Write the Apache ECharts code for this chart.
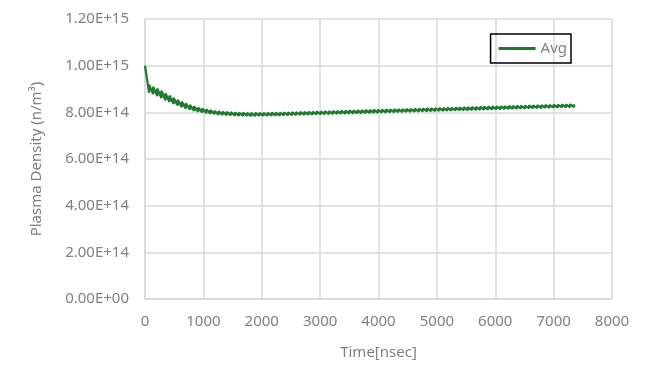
<!DOCTYPE html>
<html><head><meta charset="utf-8">
<script src="https://cdn.jsdelivr.net/npm/echarts@6/dist/echarts.min.js"></script>
<style>html,body{margin:0;padding:0;background:#fff}#c{width:650px;height:391px}</style>
</head><body><div id="c"></div>
<script>
// Time samples (nsec), one per pulse
const times = [0,70,140,210,280,350,420,490,560,630,700,770,840,910,980,1050,1120,1190,1260,1330,1400,1470,1540,1610,1680,1750,1820,1890,1960,2030,2100,2170,2240,2310,2380,2450,2520,2590,2660,2730,2800,2870,2940,3010,3080,3150,3220,3290,3360,3430,3500,3570,3640,3710,3780,3850,3920,3990,4060,4130,4200,4270,4340,4410,4480,4550,4620,4690,4760,4830,4900,4970,5040,5110,5180,5250,5320,5390,5460,5530,5600,5670,5740,5810,5880,5950,6020,6090,6160,6230,6300,6370,6440,6510,6580,6650,6720,6790,6860,6930,7000,7070,7140,7210,7280,7350];
// Density just before each pulse (x1e14 n/m^3)
const lows = [10.00,8.84,8.78,8.70,8.61,8.52,8.44,8.36,8.29,8.22,8.16,8.11,8.06,8.02,7.99,7.96,7.94,7.92,7.90,7.89,7.88,7.87,7.86,7.85,7.85,7.85,7.84,7.84,7.85,7.85,7.85,7.86,7.86,7.86,7.87,7.87,7.88,7.88,7.89,7.89,7.90,7.90,7.91,7.91,7.92,7.92,7.93,7.93,7.94,7.94,7.95,7.95,7.96,7.96,7.97,7.97,7.98,7.98,7.99,7.99,8.00,8.00,8.01,8.01,8.02,8.02,8.03,8.03,8.04,8.04,8.05,8.05,8.06,8.06,8.07,8.07,8.08,8.08,8.09,8.09,8.10,8.10,8.11,8.11,8.12,8.12,8.13,8.13,8.14,8.14,8.15,8.15,8.16,8.16,8.17,8.17,8.18,8.18,8.19,8.19,8.20,8.20,8.21,8.21,8.22,8.22];
// Density just after each pulse (x1e14 n/m^3)
const highs = [10.00,9.18,9.10,9.02,8.93,8.82,8.72,8.62,8.54,8.46,8.39,8.32,8.26,8.21,8.17,8.13,8.10,8.07,8.05,8.03,8.02,8.01,8.00,7.99,7.99,7.98,7.98,7.98,7.98,7.98,7.98,7.99,7.99,7.99,8.00,8.00,8.01,8.01,8.02,8.02,8.03,8.03,8.04,8.04,8.05,8.05,8.06,8.06,8.07,8.07,8.08,8.08,8.09,8.09,8.10,8.10,8.11,8.11,8.12,8.12,8.13,8.13,8.14,8.14,8.15,8.15,8.16,8.16,8.17,8.17,8.18,8.18,8.19,8.19,8.20,8.20,8.21,8.21,8.22,8.22,8.23,8.23,8.24,8.24,8.25,8.25,8.26,8.26,8.27,8.27,8.28,8.28,8.29,8.29,8.30,8.30,8.31,8.31,8.32,8.32,8.33,8.33,8.34,8.34,8.35,8.35];
const xTicks = [0,1000,2000,3000,4000,5000,6000,7000,8000];
const yTicks = [0,2e14,4e14,6e14,8e14,1e15,1.2e15];
const seriesName = 'Avg';

const data = [];
for (let i = 0; i < times.length; i++) {
  data.push([times[i], lows[i] * 1e14]);
  data.push([times[i], highs[i] * 1e14]);
}
function fmtE(v) {
  if (v === 0) return '0.00E+00';
  const s = v.toExponential(2).toUpperCase();
  const m = s.match(/^(.*)E([+-])(\d+)$/);
  return m[1] + 'E' + m[2] + (m[3].length < 2 ? '0' + m[3] : m[3]);
}
const font = '"Noto Sans",sans-serif';
const chart = echarts.init(document.getElementById('c'), null, {renderer: 'canvas'});
chart.setOption({
  animation: false,
  textStyle: {fontFamily: font},
  grid: {left: 145, right: 38, top: 19, bottom: 92, containLabel: false},
  legend: {
    data: [seriesName], right: 79, top: 34, orient: 'horizontal',
    borderColor: '#000', borderWidth: 1.5, padding: [7, 4, 7, 8],
    icon: 'rect', itemWidth: 37, itemHeight: 3, itemGap: 4,
    textStyle: {color: '#808080', fontSize: 15, fontFamily: font}
  },
  xAxis: {
    type: 'value', min: xTicks[0], max: xTicks[xTicks.length - 1], interval: 1000,
    name: 'Time[nsec]', nameLocation: 'middle', nameGap: 46,
    nameTextStyle: {color: '#808080', fontSize: 15, fontFamily: font},
    axisLine: {show: true, lineStyle: {color: '#d9d9d9', width: 1.5}},
    axisTick: {show: false},
    axisLabel: {color: '#808080', fontSize: 15, margin: 15, fontFamily: font, formatter: v => String(v)},
    splitLine: {show: true, lineStyle: {color: '#d9d9d9', width: 1.5}}
  },
  yAxis: {
    type: 'value', min: yTicks[0], max: yTicks[yTicks.length - 1], interval: 2e14,
    name: 'Plasma Density (n/m\u00b3)', nameLocation: 'middle', nameGap: 101, nameRotate: 90,
    nameTextStyle: {color: '#808080', fontSize: 15, fontFamily: font},
    axisLine: {show: true, lineStyle: {color: '#d9d9d9', width: 1.5}},
    axisTick: {show: false},
    axisLabel: {color: '#808080', fontSize: 15, margin: 16, formatter: fmtE, fontFamily: font},
    splitLine: {show: true, lineStyle: {color: '#d9d9d9', width: 1.5}}
  },
  series: [{
    name: seriesName, type: 'line', data: data, showSymbol: false, symbol: 'none',
    lineStyle: {color: '#1e7a2e', width: 2.25}, itemStyle: {color: '#1e7a2e'}
  }]
});
</script></body></html>
